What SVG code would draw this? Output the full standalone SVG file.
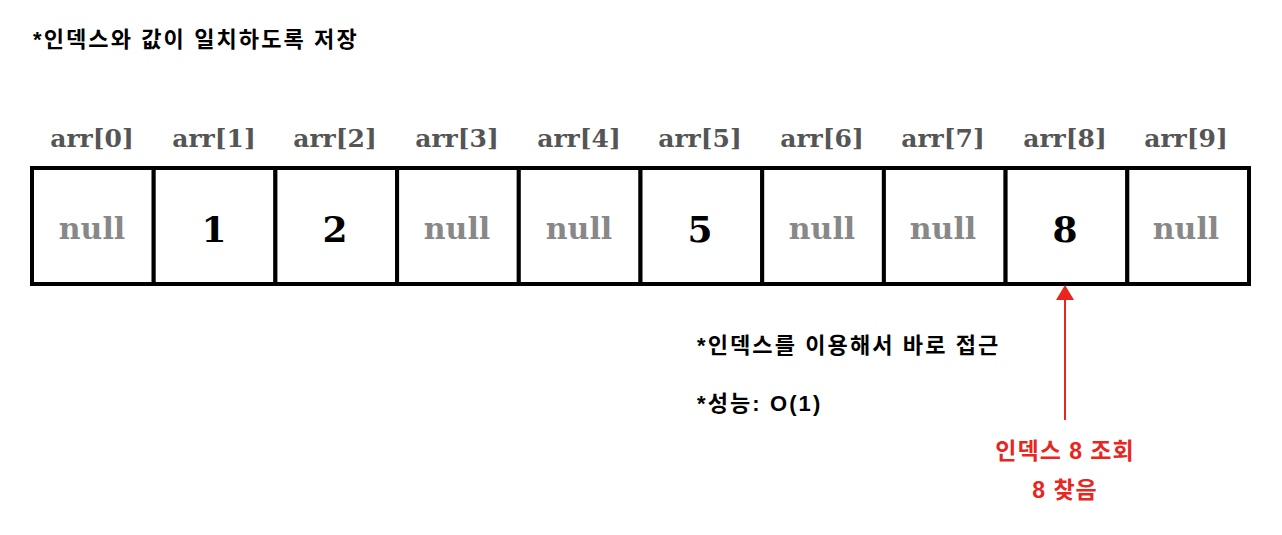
<svg xmlns="http://www.w3.org/2000/svg" width="1282" height="535" viewBox="0 0 1282 535">
<style>
.lbl{font-family:"DejaVu Serif","Liberation Serif",serif;font-weight:bold;font-size:25px;fill:#555;text-anchor:middle}
.nul{font-family:"DejaVu Serif","Liberation Serif",serif;font-weight:bold;font-size:30px;fill:#888;text-anchor:middle}
.num{font-family:"DejaVu Serif","Liberation Serif",serif;font-weight:bold;font-size:36px;fill:#000;text-anchor:middle}
.cell{fill:#fff;stroke:#000;stroke-width:4}
.note{font-family:"Liberation Sans","Noto Sans CJK KR",sans-serif;font-weight:bold;font-size:22px;letter-spacing:2.1px;fill:#000}
.red{font-family:"Liberation Sans","Noto Sans CJK KR",sans-serif;font-weight:bold;font-size:23px;letter-spacing:1px;fill:#e8261e;text-anchor:middle}
</style>
<rect width="1282" height="535" fill="#fff"/>
<text class="note" x="33" y="47">*인덱스와 값이 일치하도록 저장</text>
<g id="cell0"><rect class="cell" x="32" y="168" width="121.7" height="116"/><text class="lbl" x="92" y="147">arr[0]</text><text class="nul" x="92" y="239">null</text></g>
<g id="cell1"><rect class="cell" x="153.7" y="168" width="121.7" height="116"/><text class="lbl" x="214" y="147">arr[1]</text><text class="num" x="214" y="242">1</text></g>
<g id="cell2"><rect class="cell" x="275.4" y="168" width="121.7" height="116"/><text class="lbl" x="335" y="147">arr[2]</text><text class="num" x="335" y="242">2</text></g>
<g id="cell3"><rect class="cell" x="397.1" y="168" width="121.7" height="116"/><text class="lbl" x="457" y="147">arr[3]</text><text class="nul" x="457" y="239">null</text></g>
<g id="cell4"><rect class="cell" x="518.8" y="168" width="121.7" height="116"/><text class="lbl" x="579" y="147">arr[4]</text><text class="nul" x="579" y="239">null</text></g>
<g id="cell5"><rect class="cell" x="640.5" y="168" width="121.7" height="116"/><text class="lbl" x="700" y="147">arr[5]</text><text class="num" x="700" y="242">5</text></g>
<g id="cell6"><rect class="cell" x="762.2" y="168" width="121.7" height="116"/><text class="lbl" x="822" y="147">arr[6]</text><text class="nul" x="822" y="239">null</text></g>
<g id="cell7"><rect class="cell" x="883.9" y="168" width="121.7" height="116"/><text class="lbl" x="943" y="147">arr[7]</text><text class="nul" x="943" y="239">null</text></g>
<g id="cell8"><rect class="cell" x="1005.6" y="168" width="121.7" height="116"/><text class="lbl" x="1065" y="147">arr[8]</text><text class="num" x="1065" y="242">8</text></g>
<g id="cell9"><rect class="cell" x="1127.3" y="168" width="121.7" height="116"/><text class="lbl" x="1186" y="147">arr[9]</text><text class="nul" x="1186" y="239">null</text></g>
<g id="connectors">
<line x1="1065" y1="296" x2="1065" y2="420" stroke="#e8261e" stroke-width="2"/>
<polygon points="1065,285 1056,300 1074,300" fill="#e8261e"/>
</g>
<g id="notes">
<text class="note" x="697" y="353">*인덱스를 이용해서 바로 접근</text>
<text class="note" x="697" y="411">*성능: O(1)</text>
</g>
<g id="result">
<text class="red" x="1065" y="459">인덱스 8 조회</text>
<text class="red" x="1065" y="498">8 찾음</text>
</g>
</svg>
